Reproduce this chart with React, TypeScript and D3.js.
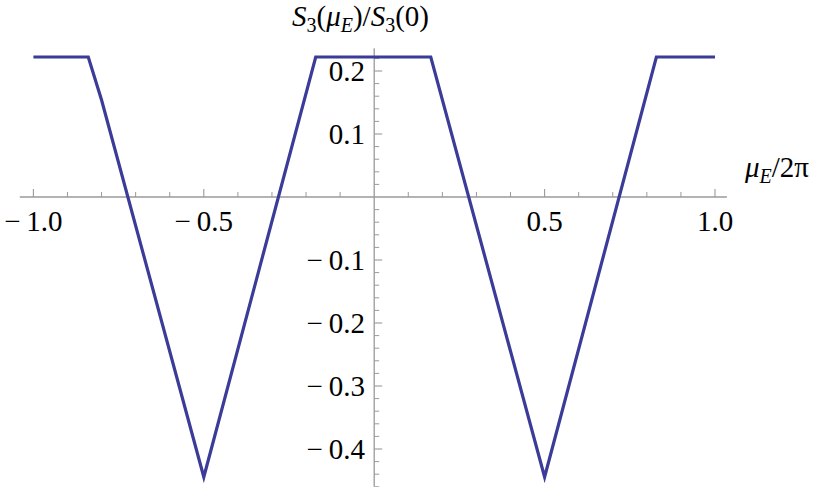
import React from "react";
import * as d3 from "d3";

const muValues = [-1, -0.839, -0.8, -0.5, -0.1716, 0.166, 0.5, 0.828, 1];
const s3Values = [0.2222, 0.2222, 0.154, -0.4444, 0.2222, 0.2222, -0.4444, 0.2222, 0.2222];
const xMajorTicks = [-1, -0.5, 0.5, 1];
const xTickLabels = ["−1.0", "−0.5", "0.5", "1.0"];
const yMajorTicks = [0.2, 0.1, -0.1, -0.2, -0.3, -0.4];
const yTickLabels = ["0.2", "0.1", "−0.1", "−0.2", "−0.3", "−0.4"];
const xDomain = [-1.04, 1.035];
const yDomain = [-0.46, 0.236];

const W = 830;
const H = 487;
const LINE = "#3b3b98";
const AXIS = "#9a9a9a";

export default function App() {
  const x = d3.scaleLinear().domain([-1, 1]).range([33.4, 715]);
  const y = d3.scaleLinear().domain([0.2, -0.4]).range([71, 449]);

  const pts = muValues.map((m, i) => [m, s3Values[i]] as [number, number]);
  const line = d3
    .line<[number, number]>()
    .x((d) => x(d[0]))
    .y((d) => y(d[1]));

  const xMinor = d3.range(-10, 11).map((k) => k / 10).filter((v) => Math.abs(v) > 1e-9 && !xMajorTicks.some((m) => Math.abs(m - v) < 1e-9));
  const yMinor = d3.range(-23, 12).map((k) => k / 50).filter((v) => v >= yDomain[0] && v <= yDomain[1] && Math.abs(v) > 1e-9 && !yMajorTicks.some((m) => Math.abs(m - v) < 1e-9));

  const x0 = x(0);
  const y0 = y(0);
  const lbl = (s: string) => (s.startsWith("−") ? "−\u2009" + s.slice(1) : s);

  return (
    <div style={{ position: "absolute", left: 0, top: 0, width: W, height: H, fontFamily: "Liberation Serif" }}>
      <style>{`svg text, svg tspan { font-family: "Liberation Serif", serif !important; }`}</style>
      <svg width={W} height={H} fontFamily="Liberation Serif">
        <line x1={x(xDomain[0])} x2={x(xDomain[1])} y1={y0} y2={y0} stroke={AXIS} strokeWidth={1.3} />
        <line x1={x0} x2={x0} y1={y(yDomain[1])} y2={y(yDomain[0])} stroke={AXIS} strokeWidth={1.3} />

        {xMajorTicks.map((t) => (
          <line key={"xM" + t} x1={x(t)} x2={x(t)} y1={y0} y2={y0 - 8} stroke={AXIS} strokeWidth={1.1} />
        ))}
        {xMinor.map((t) => (
          <line key={"xm" + t} x1={x(t)} x2={x(t)} y1={y0} y2={y0 - 5} stroke={AXIS} strokeWidth={1} />
        ))}
        {xMajorTicks.map((t, i) => (
          <text key={"xl" + t} x={x(t)} y={231} textAnchor="middle" fontSize={29} fill="#000" fontFamily="Liberation Serif">
            {lbl(xTickLabels[i])}
          </text>
        ))}

        {yMajorTicks.map((t) => (
          <line key={"yM" + t} x1={x0} x2={x0 + 8} y1={y(t)} y2={y(t)} stroke={AXIS} strokeWidth={1.1} />
        ))}
        {yMinor.map((t) => (
          <line key={"ym" + t} x1={x0} x2={x0 + 5} y1={y(t)} y2={y(t)} stroke={AXIS} strokeWidth={1} />
        ))}
        {yMajorTicks.map((t, i) => (
          <text key={"yl" + t} x={365} y={y(t) + 10} textAnchor="end" fontSize={29} fill="#000" fontFamily="Liberation Serif">
            {lbl(yTickLabels[i])}
          </text>
        ))}

        <path d={line(pts) || ""} fill="none" stroke={LINE} strokeWidth={3.2} strokeLinejoin="miter" />

        <text x={292} y={26} fontSize={29} fill="#000" fontFamily="Liberation Serif">
          <tspan fontStyle="italic">S</tspan>
          <tspan fontSize={20} dy={6}>3</tspan>
          <tspan dy={-6}>(</tspan>
          <tspan fontStyle="italic">μ</tspan>
          <tspan fontStyle="italic" fontSize={20} dy={6}>E</tspan>
          <tspan dy={-6}>)/</tspan>
          <tspan fontStyle="italic">S</tspan>
          <tspan fontSize={20} dy={6}>3</tspan>
          <tspan dy={-6}>(0)</tspan>
        </text>
        <text x={745} y={177} fontSize={29} fill="#000" fontFamily="Liberation Serif">
          <tspan fontStyle="italic">μ</tspan>
          <tspan fontStyle="italic" fontSize={20} dy={6}>E</tspan>
          <tspan dy={-6}>/2π</tspan>
        </text>
      </svg>
    </div>
  );
}
